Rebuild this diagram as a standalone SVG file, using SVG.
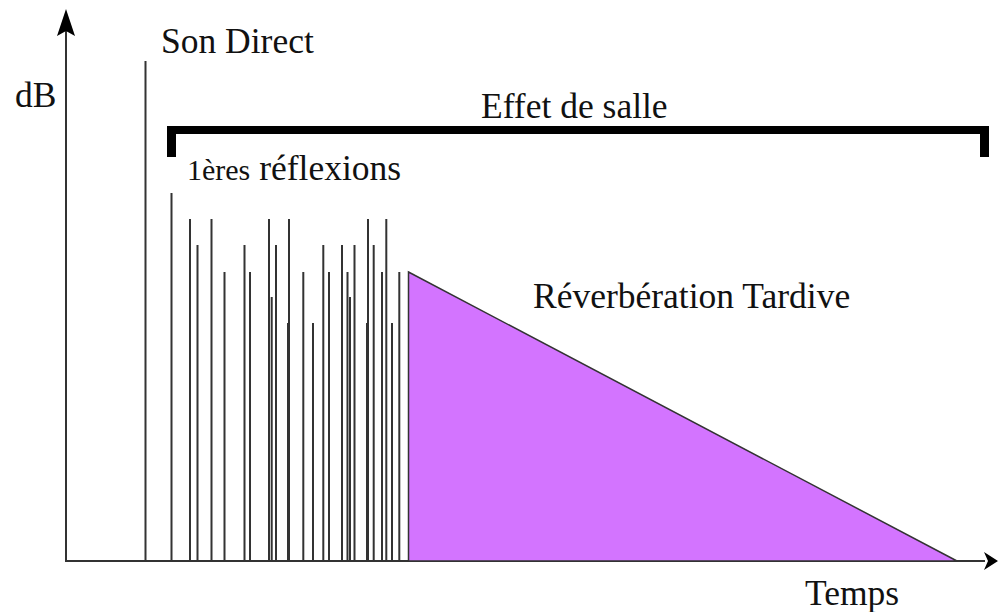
<svg xmlns="http://www.w3.org/2000/svg" width="998" height="612" viewBox="0 0 998 612">
<style>
.t{font-family:"Liberation Serif","Times New Roman",serif;font-size:35.5px;fill:#111}
.ln{stroke:#333;stroke-width:2;fill:none}
.ax{stroke:#333;stroke-width:2;fill:none}
</style>
<rect width="998" height="612" fill="#fff"/>
<g id="axes">
<line class="ax" x1="66" y1="562" x2="66" y2="30"/>
<polygon points="66,9 57,36 66,31 75,36" fill="#000"/>
<line class="ax" x1="65" y1="561" x2="985" y2="561"/>
<polygon points="998,561 984,552 988,561 984,570" fill="#000"/>
</g>
<g id="reverb">
<polygon points="408.5,272 957,561 408.5,561" fill="#d374ff" stroke="#333" stroke-width="1.5"/>
</g>
<g id="impulses">
<line class="ln" x1="145.5" y1="61" x2="145.5" y2="561"/>
<line class="ln" x1="171.5" y1="193" x2="171.5" y2="561"/>
<line class="ln" x1="190" y1="219" x2="190" y2="561"/>
<line class="ln" x1="197.5" y1="245" x2="197.5" y2="561"/>
<line class="ln" x1="211.5" y1="219" x2="211.5" y2="561"/>
<line class="ln" x1="224.5" y1="272" x2="224.5" y2="561"/>
<line class="ln" x1="244.5" y1="245" x2="244.5" y2="561"/>
<line class="ln" x1="250" y1="272" x2="250" y2="561"/>
<line class="ln" x1="269" y1="219" x2="269" y2="561"/>
<line class="ln" x1="271.7" y1="297" x2="271.7" y2="561"/>
<line class="ln" x1="276" y1="245" x2="276" y2="561"/>
<line class="ln" x1="288" y1="323" x2="288" y2="561"/>
<line class="ln" x1="289" y1="219" x2="289" y2="561"/>
<line class="ln" x1="303.3" y1="272" x2="303.3" y2="561"/>
<line class="ln" x1="313" y1="323" x2="313" y2="561"/>
<line class="ln" x1="323.3" y1="245" x2="323.3" y2="561"/>
<line class="ln" x1="329" y1="272" x2="329" y2="561"/>
<line class="ln" x1="342" y1="245" x2="342" y2="561"/>
<line class="ln" x1="347.5" y1="272" x2="347.5" y2="561"/>
<line class="ln" x1="350" y1="297" x2="350" y2="561"/>
<line class="ln" x1="354.5" y1="245" x2="354.5" y2="561"/>
<line class="ln" x1="367" y1="323" x2="367" y2="561"/>
<line class="ln" x1="368" y1="219" x2="368" y2="561"/>
<line class="ln" x1="373.7" y1="245" x2="373.7" y2="561"/>
<line class="ln" x1="382" y1="272" x2="382" y2="561"/>
<line class="ln" x1="386.3" y1="219" x2="386.3" y2="561"/>
<line class="ln" x1="392" y1="323" x2="392" y2="561"/>
<line class="ln" x1="399.3" y1="272" x2="399.3" y2="561"/>
</g>
<g id="bracket">
<path d="M167,126 H989 V157 H980 V134 H176 V157 H167 Z" fill="#000"/>
</g>
<g id="labels">
<text class="t" x="161" y="53">Son Direct</text>
<text class="t" x="15" y="107">dB</text>
<text class="t" x="481" y="118">Effet de salle</text>
<text class="t" x="187" y="180"><tspan style="font-size:30px">1ères</tspan> réflexions</text>
<text class="t" x="533" y="308">Réverbération Tardive</text>
<text class="t" x="805" y="605">Temps</text>
</g>
</svg>
